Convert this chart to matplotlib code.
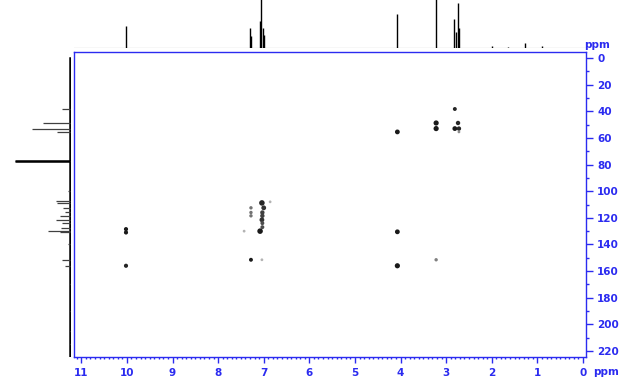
import numpy as np
import matplotlib
matplotlib.use("Agg")
import matplotlib.pyplot as plt
from matplotlib.ticker import MultipleLocator

BLUE = '#2b2bf0'

# 1H projection (top): shift in ppm, relative height
h_shift = [10.02, 7.31, 7.29, 7.08, 7.05, 7.02, 7.00, 4.08, 3.22, 2.82, 2.79, 2.74, 2.72, 2.00, 1.65, 1.28, 0.90]
h_height = [22, 20, 12, 27, 52, 20, 13, 34, 52, 29, 16, 45, 20, 2, 1, 5, 2]

# 13C projection (left): shift in ppm, relative intensity
c_shift = [38.3, 48.5, 53.0, 55.5, 77.0, 107.0, 109.0, 112.5, 116.0, 118.5, 121.5, 124.0,
           127.5, 130.0, 131.0, 151.5, 156.0, 100.0, 140.0, 170.0, 190.0, 205.0, 215.0]
c_height = [8, 27, 38, 13, 55, 14, 13, 7, 5, 10, 14, 8, 9, 22, 10, 8, 5, 2, 2, 1, 1, 1, 1]

# 2D cross peaks: (1H ppm, 13C ppm, marker size, grey level)
xp_h = [10.02, 10.02, 10.02,
        7.28, 7.28, 7.28, 7.04, 6.86, 7.00, 7.03, 7.03, 7.04, 7.03, 7.03, 7.08, 7.43, 7.28, 7.04,
        4.07, 4.07, 4.07,
        3.22, 3.22, 3.22,
        2.81, 2.74, 2.81, 2.72, 2.72]
xp_c = [128.5, 131.0, 156.0,
        112.5, 116.0, 118.5, 108.8, 108.0, 112.5, 116.0, 118.5, 121.5, 124.0, 127.0, 130.0, 130.0, 151.5, 151.5,
        55.5, 130.5, 156.0,
        48.8, 53.0, 151.5,
        38.3, 48.8, 53.0, 53.0, 55.5]
xp_size = [9, 9, 9,
           6, 6, 6, 16, 4, 12, 10, 10, 12, 8, 8, 16, 4, 8, 4,
           12, 12, 14,
           14, 14, 6,
           8, 10, 12, 10, 4]
xp_grey = [0.1, 0.1, 0.15,
           0.45, 0.45, 0.45, 0.15, 0.7, 0.2, 0.25, 0.25, 0.2, 0.3, 0.3, 0.1, 0.7, 0.1, 0.7,
           0.1, 0.1, 0.1,
           0.1, 0.1, 0.5,
           0.15, 0.15, 0.1, 0.15, 0.55]

W, H = 631, 389
XLIM = (11.16, -0.066)
YLIM = (224.5, -4.5)

fig = plt.figure(figsize=(W / 100, H / 100), dpi=100)
fig.patch.set_facecolor('white')

def box(l, t, r, b):
    return [l / W, 1 - b / H, (r - l) / W, (b - t) / H]

# main 2D panel
ax = fig.add_axes(box(74, 52, 586, 357))
ax.scatter(xp_h, xp_c, s=xp_size, c=[str(g) for g in xp_grey], marker='o', linewidths=0)
ax.set_xlim(*XLIM)
ax.set_ylim(*YLIM)
for sp in ax.spines.values():
    sp.set_color(BLUE)
    sp.set_linewidth(1.0)
ax.xaxis.set_major_locator(MultipleLocator(1))
ax.xaxis.set_minor_locator(MultipleLocator(0.1))
ax.yaxis.set_major_locator(MultipleLocator(20))
ax.yaxis.set_minor_locator(MultipleLocator(10))
ax.yaxis.tick_right()
ax.tick_params(axis='both', which='both', colors=BLUE, direction='out', width=1)
ax.tick_params(axis='x', which='major', length=4, pad=4, labelsize=7.5)
ax.tick_params(axis='x', which='minor', length=1.5)
ax.tick_params(axis='y', which='major', length=5, pad=3, labelsize=7.5)
ax.tick_params(axis='y', which='minor', length=2.5)
ax.set_xticks(range(0, 12))
for lab in ax.get_xticklabels() + ax.get_yticklabels():
    lab.set_fontweight('bold')

fig.text(597 / W, 1 - 45 / H, 'ppm', color=BLUE, fontsize=7.5, fontweight='bold', ha='center', va='center')
fig.text(606 / W, 1 - 372 / H, 'ppm', color=BLUE, fontsize=7.5, fontweight='bold', ha='center', va='center')

# top 1H projection
axt = fig.add_axes(box(74, 0, 586, 48))
axt.axhline(0, color='0.45', lw=0.8)
axt.vlines(h_shift, 0, h_height, color='black', lw=1.0)
axt.set_xlim(*XLIM)
axt.set_ylim(-0.5, 48)
axt.axis('off')

# left 13C projection
axl = fig.add_axes(box(0, 52, 70.5, 357))
axl.plot([0, 0], [0, 224], color='black', lw=1.8)
axl.hlines(c_shift, 0, c_height, color='0.25', lw=0.9)
axl.hlines([77.0], 0, 55, color='black', lw=1.8)
axl.set_xlim(70.5, -0.5)
axl.set_ylim(*YLIM)
axl.axis('off')

fig.savefig('out.png', dpi=100, facecolor='white')
